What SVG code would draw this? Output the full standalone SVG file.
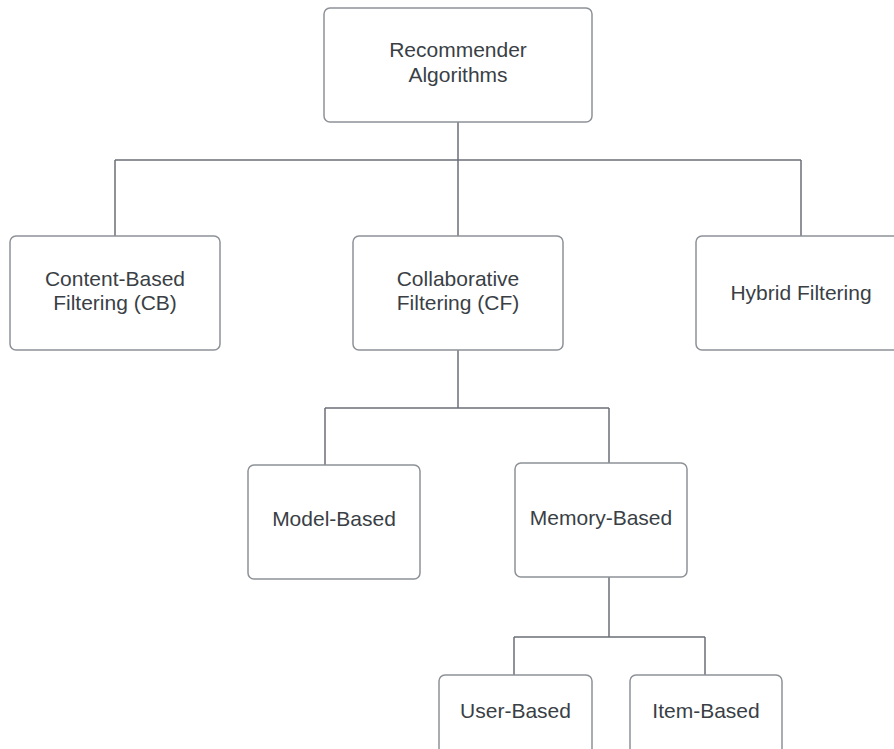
<svg xmlns="http://www.w3.org/2000/svg" width="894" height="749" viewBox="0 0 894 749">
  <style>
    .box { fill: #ffffff; stroke: #8d9197; stroke-width: 1.5; }
    .lbl { font-family: "Liberation Sans", Arial, sans-serif; font-size: 21px; fill: #3a3f46; text-anchor: middle; }
    .wire { fill: none; stroke: #6b7078; stroke-width: 1.5; }
  </style>
  <rect width="894" height="749" fill="#ffffff"/>

  <!-- tree connectors -->
  <g id="connectors">
    <path class="wire" d="M458,122 V160 M115,160 H801 M115,160 V236 M458,160 V236 M801,160 V236"/>
    <path class="wire" d="M458,350 V408 M325,408 H609 M325,408 V465 M609,408 V463"/>
    <path class="wire" d="M609,577 V637 M514,637 H705 M514,637 V675 M705,637 V675"/>
  </g>

  <g id="root">
    <rect class="box" x="324" y="8" width="268" height="114" rx="6"/>
    <text class="lbl" x="458" y="57">Recommender</text>
    <text class="lbl" x="458" y="82">Algorithms</text>
  </g>

  <g id="content-based">
    <rect class="box" x="10" y="236" width="210" height="114" rx="6"/>
    <text class="lbl" x="115" y="286">Content-Based</text>
    <text class="lbl" x="115" y="310">Filtering (CB)</text>
  </g>

  <g id="collaborative">
    <rect class="box" x="353" y="236" width="210" height="114" rx="6"/>
    <text class="lbl" x="458" y="286">Collaborative</text>
    <text class="lbl" x="458" y="310">Filtering (CF)</text>
  </g>

  <g id="hybrid">
    <rect class="box" x="696" y="236" width="210" height="114" rx="6"/>
    <text class="lbl" x="801" y="300">Hybrid Filtering</text>
  </g>

  <g id="model-based">
    <rect class="box" x="248" y="465" width="172" height="114" rx="6"/>
    <text class="lbl" x="334" y="526">Model-Based</text>
  </g>

  <g id="memory-based">
    <rect class="box" x="515" y="463" width="172" height="114" rx="6"/>
    <text class="lbl" x="601" y="525">Memory-Based</text>
  </g>

  <g id="user-based">
    <rect class="box" x="439" y="675" width="153" height="114" rx="6"/>
    <text class="lbl" x="515.5" y="718">User-Based</text>
  </g>

  <g id="item-based">
    <rect class="box" x="630" y="675" width="152" height="114" rx="6"/>
    <text class="lbl" x="706" y="718">Item-Based</text>
  </g>
</svg>
